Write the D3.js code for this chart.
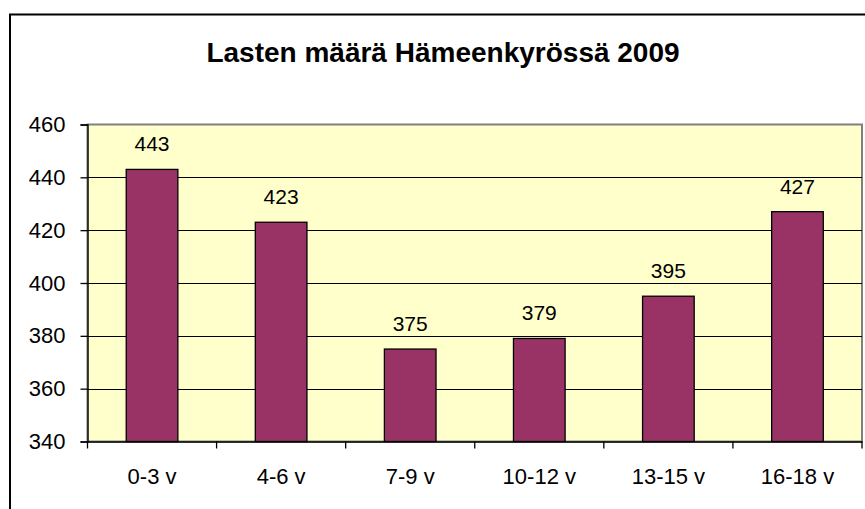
<!DOCTYPE html>
<html>
<head>
<meta charset="utf-8">
<script src="https://cdn.jsdelivr.net/npm/d3@7"></script>
<style>
  html, body { margin: 0; padding: 0; background: #ffffff; }
  svg { display: block; }
  text { font-family: Arial, "Liberation Sans", sans-serif; fill: #000; }
</style>
</head>
<body>
<svg id="chart" width="865" height="509"></svg>
<script>
const title = "Lasten määrä Hämeenkyrössä 2009";
const categories = ["0-3 v", "4-6 v", "7-9 v", "10-12 v", "13-15 v", "16-18 v"];
const values = [443, 423, 375, 379, 395, 427];
const yTicks = [340, 360, 380, 400, 420, 440, 460];

const svg = d3.select("#chart");

// chart area border
svg.append("rect")
  .attr("x", 10).attr("y", 14.5)
  .attr("width", 870).attr("height", 520)
  .attr("fill", "#ffffff")
  .attr("stroke", "#000").attr("stroke-width", 2);

const plot = { left: 87.5, right: 862, top: 124.5, bottom: 441.5 };

const x = d3.scaleBand()
  .domain(categories)
  .range([plot.left, plot.right])
  .paddingInner(0.6)
  .paddingOuter(0.3);

const y = d3.scaleLinear()
  .domain([340, 460])
  .range([plot.bottom, plot.top]);

// plot area
svg.append("rect")
  .attr("x", plot.left).attr("y", plot.top)
  .attr("width", plot.right - plot.left).attr("height", plot.bottom - plot.top)
  .attr("fill", "#ffffcc")
  .attr("stroke", "#808080").attr("stroke-width", 2);

// gridlines
svg.append("g").selectAll("line")
  .data(yTicks.filter(t => t > 340 && t < 460))
  .join("line")
  .attr("x1", plot.left).attr("x2", plot.right)
  .attr("y1", d => Math.round(y(d)) + 0.5).attr("y2", d => Math.round(y(d)) + 0.5)
  .attr("stroke", "#000").attr("stroke-width", 1);

// bars
svg.append("g").selectAll("rect")
  .data(values)
  .join("rect")
  .attr("x", (d, i) => x(categories[i]))
  .attr("y", d => y(d))
  .attr("width", x.bandwidth())
  .attr("height", d => y(340) - y(d))
  .attr("fill", "#993366")
  .attr("stroke", "#000").attr("stroke-width", 1.3);

// value labels
svg.append("g").selectAll("text")
  .data(values)
  .join("text")
  .attr("x", (d, i) => x(categories[i]) + x.bandwidth() / 2)
  .attr("y", d => y(d) - 18)
  .attr("text-anchor", "middle")
  .attr("font-size", 21)
  .text(d => d);

// y axis
const yAxis = d3.axisLeft(y).tickValues(yTicks).tickSize(7).tickPadding(15).tickFormat(d3.format("d"));
const gy = svg.append("g").attr("transform", `translate(${plot.left},0)`).call(yAxis);
gy.select(".domain").attr("stroke", "#000").attr("stroke-width", 1.3);
gy.selectAll(".tick line").attr("stroke", "#000").attr("stroke-width", 1.3);
gy.selectAll(".tick text").attr("font-size", 22).attr("font-family", "Arial, 'Liberation Sans', sans-serif").attr("fill", "#000");

// x axis
const step = x.step();
const xAxis = d3.axisBottom(x).tickSize(0).tickPadding(27);
const gx = svg.append("g").attr("transform", `translate(0,${plot.bottom})`).call(xAxis);
gx.select(".domain").attr("stroke", "#000").attr("stroke-width", 1.3);
gx.selectAll(".tick text").attr("font-size", 22).attr("font-family", "Arial, 'Liberation Sans', sans-serif").attr("fill", "#000");
// category boundary ticks
gx.append("g").selectAll("line")
  .data(d3.range(categories.length + 1))
  .join("line")
  .attr("x1", i => plot.left + i * step).attr("x2", i => plot.left + i * step)
  .attr("y1", 0).attr("y2", 7)
  .attr("stroke", "#000").attr("stroke-width", 1.3);

// title
svg.append("text")
  .attr("x", 443).attr("y", 62)
  .attr("text-anchor", "middle")
  .attr("font-size", 28)
  .attr("font-weight", "bold")
  .text(title);
</script>
</body>
</html>
